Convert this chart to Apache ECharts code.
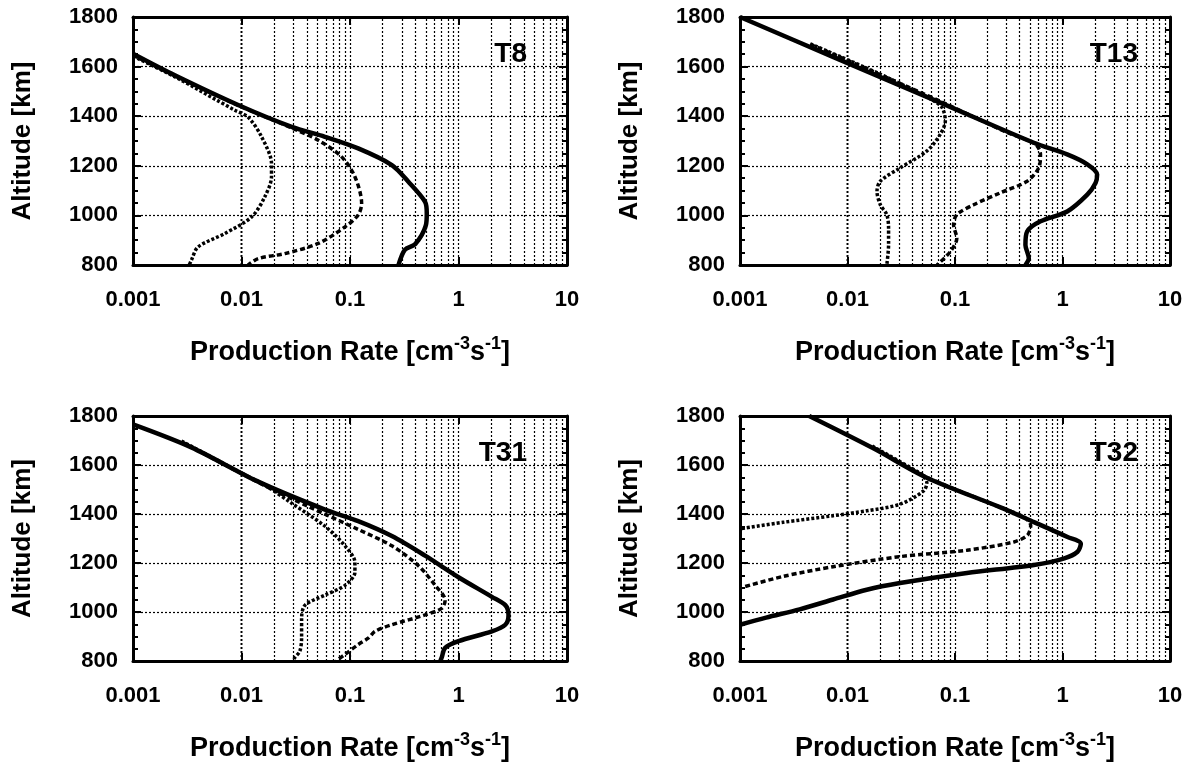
<!DOCTYPE html>
<html>
<head>
<meta charset="utf-8">
<script src="https://cdn.jsdelivr.net/npm/echarts@6/dist/echarts.min.js"></script>
<style>
  html, body { margin: 0; padding: 0; background: #fff; }
  #chart { width: 1195px; height: 768px; }
</style>
</head>
<body>
<div id="chart"></div>
<script>
// altitude profiles: [production rate, altitude km]
var t8Solid = [[0.001,1652],[0.00243,1565],[0.00966,1442],[0.029,1357],[0.0587,1317],[0.119,1270],[0.243,1203],[0.345,1136],[0.492,1055],[0.51,1008],[0.5,960],[0.4,885],[0.32,861],[0.28,800]];
var t8Dash  = [[0.001,1646],[0.0025,1560],[0.01,1438],[0.03,1350],[0.051,1303],[0.0838,1236],[0.111,1156],[0.128,1048],[0.119,1002],[0.09,954],[0.051,887],[0.0251,846],[0.0143,826],[0.0115,800]];
var t8Dot   = [[0.001,1642],[0.0025,1556],[0.00867,1424],[0.01153,1396],[0.0153,1317],[0.0189,1209],[0.0189,1156],[0.0164,1075],[0.0124,994],[0.00702,927],[0.00398,873],[0.00345,819],[0.0033,800]];

var t13Solid = [[0.001,1800],[0.00741,1638],[0.0729,1455],[0.541,1293],[1.105,1246],[1.70,1206],[2.10,1165],[2.03,1131],[1.70,1084],[1.105,1016],[0.624,976],[0.469,935],[0.452,881],[0.486,827],[0.452,800]];
var t13Dash  = [[0.0045,1690],[0.02,1568],[0.0729,1460],[0.3,1336],[0.56,1287],[0.624,1246],[0.602,1192],[0.469,1138],[0.264,1091],[0.149,1043],[0.104,1003],[0.097,962],[0.104,908],[0.0905,854],[0.068,800]];
var t13Dot   = [[0.0045,1692],[0.02,1570],[0.06,1468],[0.0757,1435],[0.0813,1381],[0.0729,1327],[0.0548,1260],[0.031,1192],[0.0202,1138],[0.0188,1097],[0.0202,1043],[0.0232,1003],[0.0241,949],[0.0241,881],[0.0232,800]];

var t31Solid = [[0.001,1766],[0.00345,1672],[0.01425,1532],[0.0588,1418],[0.119,1371],[0.243,1310],[0.492,1230],[1.0,1142],[2.03,1062],[2.70,1028],[2.89,988],[2.70,948],[2.03,921],[1.0,881],[0.753,854],[0.70,814],[0.68,800]];
var t31Dash  = [[0.0028,1695],[0.01,1565],[0.0203,1495],[0.0412,1431],[0.119,1337],[0.243,1270],[0.427,1189],[0.609,1109],[0.753,1048],[0.70,1015],[0.492,988],[0.243,948],[0.17,921],[0.148,894],[0.119,867],[0.09,827],[0.078,807],[0.075,800]];
var t31Dot   = [[0.0028,1698],[0.01,1567],[0.0164,1518],[0.029,1444],[0.0588,1350],[0.09,1270],[0.111,1203],[0.111,1162],[0.09,1109],[0.0588,1069],[0.0385,1028],[0.0358,975],[0.0358,894],[0.0345,840],[0.031,814],[0.03,800]];

var t32Solid = [[0.0044,1800],[0.0174,1668],[0.0547,1548],[0.265,1427],[0.543,1367],[1.114,1306],[1.48,1279],[1.38,1246],[1.04,1219],[0.543,1192],[0.129,1159],[0.0308,1118],[0.0151,1091],[0.00735,1051],[0.00359,1011],[0.00175,977],[0.001,948]];
var t32Dash  = [[0.017,1675],[0.05,1558],[0.2,1448],[0.438,1387],[0.506,1353],[0.471,1313],[0.353,1286],[0.129,1252],[0.0308,1226],[0.00735,1185],[0.00251,1145],[0.001,1098]];
var t32Dot   = [[0.017,1677],[0.045,1572],[0.051,1554],[0.0547,1528],[0.051,1494],[0.0308,1440],[0.0151,1413],[0.00735,1393],[0.00251,1366],[0.001,1340]];

var panelNames = ['T8', 'T13', 'T31', 'T32'];
var panelData = [
  [t8Solid, t8Dash, t8Dot],
  [t13Solid, t13Dash, t13Dot],
  [t31Solid, t31Dash, t31Dot],
  [t32Solid, t32Dash, t32Dot]
];
var xMin = 0.001, xMax = 10;
var yMin = 800, yMax = 1800;

// log grid lines 0.002 .. 9 (the frame covers 0.001 and 10)
var xGridVals = [];
for (var e = -3; e <= 0; e++) {
  for (var m = 1; m <= 9; m++) {
    var v = Number((m * Math.pow(10, e)).toPrecision(1));
    if (v > xMin && v < xMax) xGridVals.push(v);
  }
}

var FONT = "'Liberation Sans', Arial, sans-serif";
var grids = [
  {left: 133, top: 17, width: 434, height: 248},
  {left: 740, top: 17, width: 430, height: 248},
  {left: 133, top: 416, width: 434, height: 249},
  {left: 740, top: 416, width: 430, height: 249}
];
var labelPos = [[527, 54], [1138, 54], [527, 453], [1138, 453]];

var frameLine = {show: true, onZero: false, lineStyle: {color: '#000', width: 3}};
var dotted = {color: '#000', width: 1.2, type: [2, 2]};

var xAxes = [], yAxes = [], series = [], graphics = [];
grids.forEach(function (g, i) {
  xAxes.push({
    type: 'log', gridIndex: i, min: xMin, max: xMax, position: 'bottom',
    axisLine: frameLine,
    axisTick: {inside: true, length: 8, lineStyle: {color: '#000', width: 2}},
    axisLabel: {
      margin: 24, color: '#000', fontSize: 22, fontWeight: 'bold', fontFamily: FONT,
      formatter: function (v) { return String(+Number(v).toPrecision(1)); }
    },
    splitLine: {show: false},
    name: 'Production Rate [cm{sup|-3}s{sup|-1}]',
    nameLocation: 'middle', nameGap: 70,
    nameTextStyle: {
      color: '#000', fontSize: 27, fontWeight: 'bold', fontFamily: FONT, lineHeight: 36,
      rich: {sup: {fontSize: 18, fontWeight: 'bold', fontFamily: FONT, color: '#000', verticalAlign: 'top', lineHeight: 18}}
    }
  });
  xAxes.push({
    type: 'log', gridIndex: i, min: xMin, max: xMax, position: 'top',
    axisLine: frameLine,
    axisTick: {inside: true, length: 8, lineStyle: {color: '#000', width: 2}},
    axisLabel: {show: false}, splitLine: {show: false}
  });
  yAxes.push({
    type: 'value', gridIndex: i, min: yMin, max: yMax, interval: 200, position: 'left',
    axisLine: frameLine,
    axisTick: {inside: true, length: 8, lineStyle: {color: '#000', width: 2}},
    minorTick: {show: true, splitNumber: 4, length: 5, lineStyle: {color: '#000', width: 2}},
    axisLabel: {
      margin: 15, color: '#000', fontSize: 22, fontWeight: 'bold', fontFamily: FONT,
      formatter: function (v) { return String(v); }
    },
    splitLine: {show: true, lineStyle: dotted},
    name: 'Altitude [km]', nameLocation: 'middle', nameGap: 97,
    nameTextStyle: {color: '#000', fontSize: 26, fontWeight: 'bold', fontFamily: FONT}
  });
  yAxes.push({
    type: 'value', gridIndex: i, min: yMin, max: yMax, interval: 200, position: 'right',
    axisLine: frameLine,
    axisTick: {inside: true, length: 8, lineStyle: {color: '#000', width: 2}},
    minorTick: {show: true, splitNumber: 4, length: 5, lineStyle: {color: '#000', width: 2}},
    axisLabel: {show: false}, splitLine: {show: false}
  });

  var xi = 2 * i, yi = 2 * i;
  // vertical dotted grid lines, placed through the log axis
  series.push({
    type: 'line', xAxisIndex: xi, yAxisIndex: yi, data: [], silent: true,
    markLine: {
      silent: true, symbol: 'none', label: {show: false},
      lineStyle: dotted,
      data: xGridVals.map(function (v) { return {xAxis: v}; })
    }
  });
  var styles = [
    {width: 4.5, type: 'solid'},
    {width: 3.5, type: [5, 3]},
    {width: 3.5, type: [3, 2]}
  ];
  panelData[i].forEach(function (d, k) {
    series.push({
      type: 'line', xAxisIndex: xi, yAxisIndex: yi, data: d,
      showSymbol: false, smooth: 0.3, z: 5 - k,
      lineStyle: {color: '#000', width: styles[k].width, type: styles[k].type}
    });
  });

  graphics.push({
    type: 'text', x: labelPos[i][0], y: labelPos[i][1], z: 10,
    style: {
      text: panelNames[i], fill: '#000',
      font: 'bold 28px ' + FONT,
      align: 'right', verticalAlign: 'middle',
      textAlign: 'right', textVerticalAlign: 'middle'
    }
  });
});

var chart = echarts.init(document.getElementById('chart'), null, {renderer: 'canvas'});
chart.setOption({
  animation: false,
  backgroundColor: '#fff',
  grid: grids,
  xAxis: xAxes,
  yAxis: yAxes,
  series: series,
  graphic: graphics
});
</script>
</body>
</html>
